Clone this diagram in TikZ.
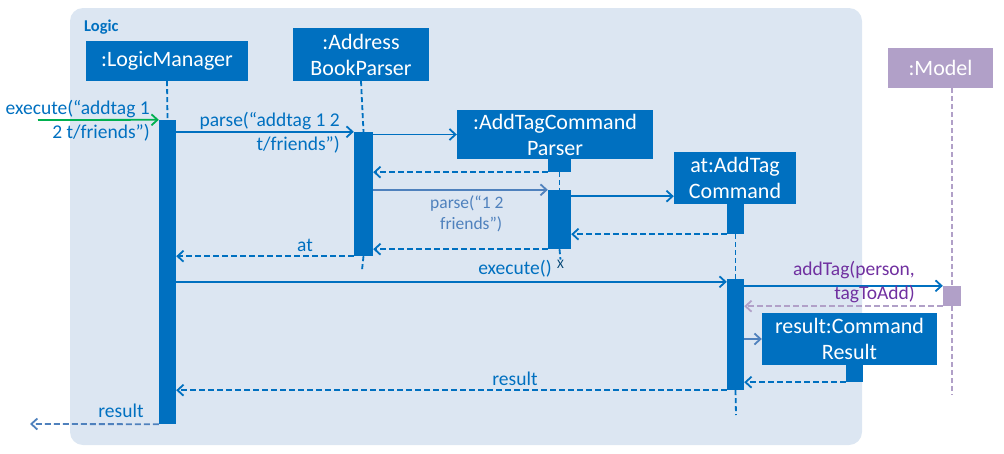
\documentclass[tikz,border=0pt]{standalone}
\usepackage{fontspec}
\setmainfont{Carlito}
\usetikzlibrary{arrows.meta,calc}
\definecolor{uiblue}{HTML}{0070C0}
\definecolor{softblue}{HTML}{4F81BD}
\definecolor{framefill}{HTML}{DCE6F2}
\definecolor{modelfill}{HTML}{B1A0C8}
\definecolor{modeltext}{HTML}{7030A0}
\definecolor{okgreen}{HTML}{00B050}
\tikzset{
  obj/.style={draw=none, fill=uiblue, text=white, inner sep=0pt, align=center,
    font=\fontsize{22}{26}\selectfont},
  act/.style={fill=uiblue, draw=none, inner sep=0pt},
  life/.style={uiblue, line width=1.8pt, dash pattern=on 5pt off 3pt},
  msg/.style={uiblue, line width=1.8pt, -{Straight Barb[length=6pt,width=11pt,line width=1.8pt]}},
  softmsg/.style={softblue, line width=1.8pt, -{Straight Barb[length=6pt,width=11pt,line width=1.8pt]}},
  ret/.style={uiblue, line width=1.8pt, dash pattern=on 6pt off 3pt, -{Straight Barb[length=6pt,width=11pt,line width=1.8pt]}},
  lbl/.style={text=uiblue, inner sep=0pt, font=\fontsize{19.5}{24}\selectfont},
}
\begin{document}
\begin{tikzpicture}[x=1pt,y=-1pt]
\useasboundingbox (0,0) rectangle (1004,453);
% package frame
\fill[framefill, rounded corners=13pt] (70,8) rectangle (862,445);
\node[anchor=west, text=uiblue, font=\fontsize{16.5}{16}\selectfont\bfseries, inner sep=0pt] (frameTitle) at (84,27) {Logic};

% objects
\node[obj, minimum width=162pt, minimum height=40pt] (lm) at (167,61) {:LogicManager};
\node[obj, minimum width=136pt, minimum height=53pt] (abp) at (361,54.5) {:Address\\BookParser};
\node[obj, minimum width=196pt, minimum height=49pt] (atcp) at (555,134.5) {:AddTagCommand\\Parser};
\node[obj, minimum width=122pt, minimum height=52pt] (atc) at (735,178) {at:AddTag\\Command};
\node[obj, fill=modelfill, minimum width=105pt, minimum height=40pt] (model) at (940.5,68) {:Model};
\node[obj, minimum width=175pt, minimum height=52pt] (cr) at (849.5,339) {result:Command\\Result};

% activation bars
\node[act, minimum width=17pt, minimum height=304pt] (lmA) at (167.5,272) {};
\node[act, minimum width=19pt, minimum height=124pt] (abpA) at (363.5,194) {};
\node[act, minimum width=23pt, minimum height=13pt] (atcpS) at (559.5,165.5) {};
\node[act, minimum width=23pt, minimum height=59pt] (atcpA) at (559.5,219.5) {};
\node[act, minimum width=17pt, minimum height=30pt] (atcS) at (735.5,219) {};
\node[act, minimum width=17pt, minimum height=111pt] (atcA) at (735.5,334.5) {};
\node[act, fill=modelfill, minimum width=18pt, minimum height=20pt] (mA) at (952,296) {};
\node[act, minimum width=17pt, minimum height=17pt] (crS) at (854.5,373.5) {};

% free ends and arrival points
\coordinate (callIn) at (38,120);
\coordinate (resOut) at (30,424);
\coordinate (abpEnd) at (362,270);
\coordinate (atcEnd) at (736,415);
\coordinate (modelEnd) at (952,395);
\coordinate (atcIn) at ([yshift=8pt]atc.south west);
\coordinate (atcAIn) at ([yshift=-3pt]atcA.north west);

% lifelines
\draw[life] (lm.south) -- (lmA.north);
\draw[life] (abp.south) -- (abpA.north);
\draw[life] (abpA.south) -- (abpEnd);
\draw[life] (atcpS.south) -- (atcpA.north);
\node[text=uiblue!60!black, inner sep=0pt, font=\fontsize{13}{13}\selectfont] (destroyX) at (560.5,264) {X};
\draw[life] (atcpA.south) -- (destroyX.north);
\draw[life] (atcS.south) -- (atcA.north);
\draw[life] (atcA.south) -- (atcEnd);
\draw[life, modelfill] (mA.north |- model.south) -- (mA.north);
\draw[life, modelfill] (mA.south) -- (modelEnd);

% messages
\draw[msg, okgreen] (callIn) -- (lmA.north west);
\node[lbl, align=right, anchor=south east] (lExec) at (150,141) {execute(“addtag 1\\2 t/friends”)};

\draw[msg] (lmA.east |- abpA.north) -- (abpA.north west);
\node[lbl, align=right, anchor=south east] (lParse) at (340,153) {parse(“addtag 1 2\\t/friends”)};

\draw[msg] (abpA.east |- atcp.west) -- (atcp.west);
\draw[ret] (atcpS.south west) -- (abpA.east |- atcpS.south);

\draw[softmsg] (abpA.east |- atcpA.north) -- (atcpA.north west);
\node[lbl, text=softblue, align=left, anchor=north west, font=\fontsize{17.5}{21}\selectfont] (lParse2) at (430,196) {parse(“1 2\\\hspace*{10pt}friends”)};

\draw[msg] (atcpA.east |- atcIn) -- (atcIn);
\draw[ret] (atcS.south west) -- (atcpA.east |- atcS.south);
\draw[ret] (atcpA.south west) -- (abpA.east |- atcpA.south);
\draw[ret] (abpA.south west) -- (lmA.east |- abpA.south);
\node[lbl, anchor=south] (lAt) at (305,252) {at};

\draw[msg] (lmA.east |- atcAIn) -- (atcAIn);
\node[lbl, anchor=south] (lExec2) at (515,277) {execute()};

\draw[msg] (atcA.east |- mA.north) -- (mA.north west);
\node[lbl, text=modeltext, align=right, anchor=south east] (lAdd) at (915,303) {addTag(person,\\tagToAdd)};
\draw[ret, modelfill] (mA.south west) -- (atcA.east |- mA.south);

\draw[softmsg] (atcA.east |- cr.west) -- (cr.west);
\draw[ret] (crS.south west) -- (atcA.east |- crS.south);

\draw[ret] (atcA.south west) -- (lmA.east |- atcA.south);
\node[lbl, anchor=south] (lRes) at (515,386) {result};

\draw[ret, softblue] (lmA.south west) -- (resOut);
\node[lbl, anchor=south] (lRes2) at (121,418) {result};
\end{tikzpicture}
\end{document}
